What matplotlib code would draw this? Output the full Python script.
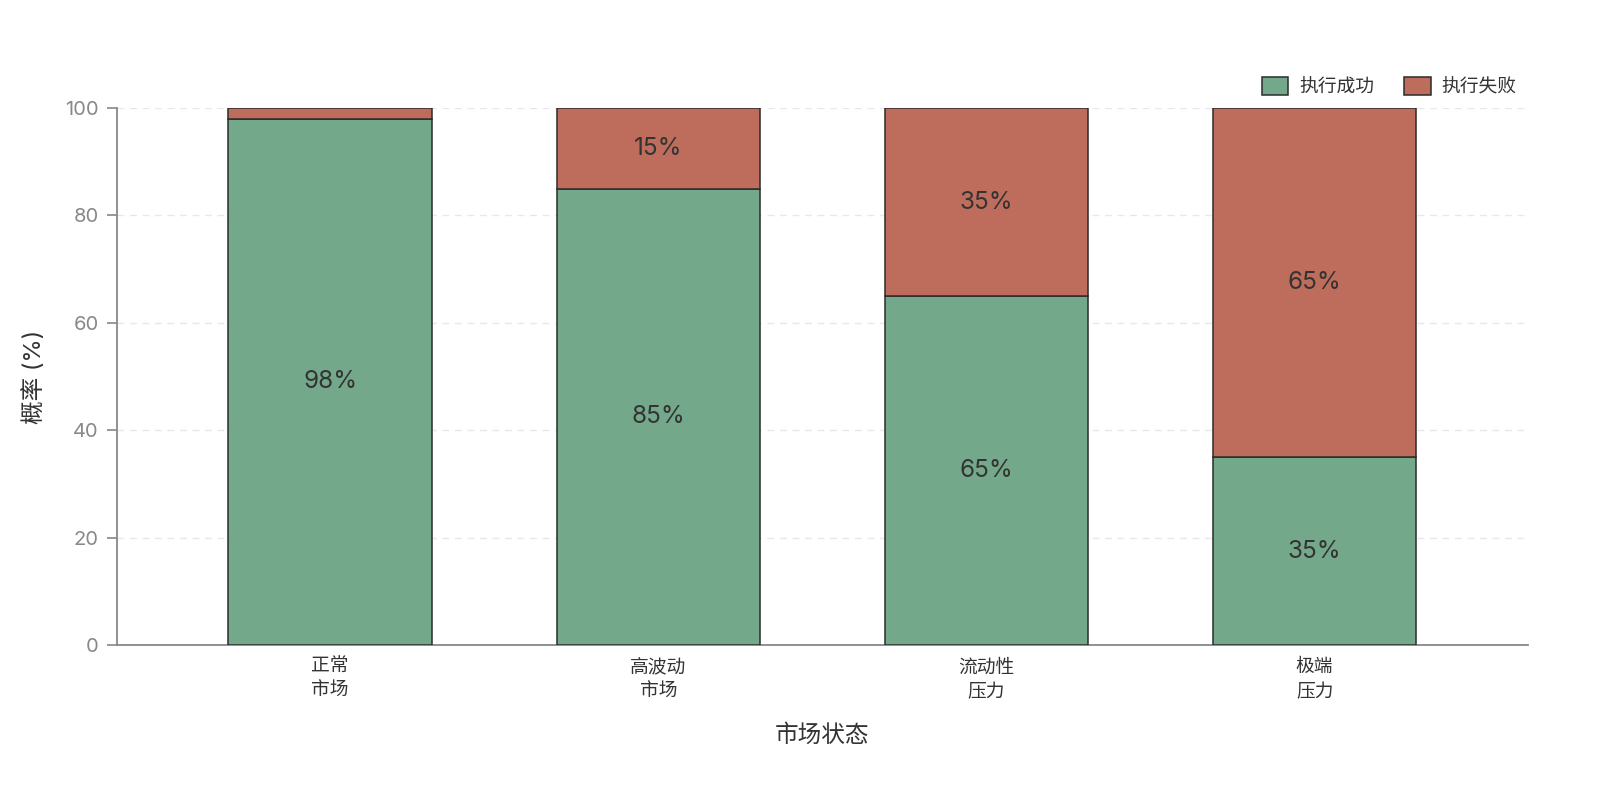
import matplotlib
matplotlib.use("Agg")
import matplotlib.pyplot as plt

plt.rcParams['font.family'] = ['Inter', 'Noto Sans CJK SC', 'DejaVu Sans']

categories = ["正常\n市场", "高波动\n市场", "流动性\n压力", "极端\n压力"]
success = [98, 85, 65, 35]
failure = [2, 15, 35, 65]
series_names = ["执行成功", "执行失败"]
yticks = [0, 20, 40, 60, 80, 100]

green = "#74A88A"
red = "#BE6D5C"
edge = "#2b2b2b"

fig = plt.figure(figsize=(16, 7.89), dpi=100)
ax = fig.add_axes([0.073, 0.1825, 0.882, 0.6805])

x = list(range(len(categories)))
w = 0.62
ax.bar(x, success, width=w, color=green, edgecolor=edge, linewidth=1.1, label=series_names[0], zorder=3)
ax.bar(x, failure, width=w, bottom=success, color=red, edgecolor=edge, linewidth=1.1, label=series_names[1], zorder=3)

for i in x:
    ax.text(i, success[i] / 2, f"{success[i]}%", ha="center", va="center", fontsize=17.5, color="#333333", zorder=4)
    if failure[i] >= 5:
        ax.text(i, success[i] + failure[i] / 2, f"{failure[i]}%", ha="center", va="center", fontsize=17.5, color="#333333", zorder=4)

ax.set_xlim(-0.65, 3.65)
ax.set_ylim(0, 100)
ax.set_yticks(yticks)
ax.set_xticks(x)
ax.set_xticklabels(categories, fontsize=13.5, color="#333333", linespacing=1.55)
ax.tick_params(axis="x", length=0, pad=10)
ax.tick_params(axis="y", labelsize=14.5, labelcolor="#888888", color="#888888", length=7, width=1.2, pad=6)

ax.grid(axis="y", linestyle=(0, (5, 4)), color="#e6e9ec", linewidth=1, zorder=0)
for s in ["top", "right"]:
    ax.spines[s].set_visible(False)
ax.spines["left"].set_color("#888888")
ax.spines["left"].set_linewidth(1.3)
ax.spines["bottom"].set_color("#888888")
ax.spines["bottom"].set_linewidth(1.3)

ax.set_xlabel("市场状态", fontsize=17, color="#333333", labelpad=17)
ax.set_ylabel("概率 (%)", fontsize=17, color="#333333", labelpad=14)

leg = ax.legend(loc="lower right", bbox_to_anchor=(1.0, 1.0), ncol=2, frameon=False,
                fontsize=13.5, handlelength=1.4, handleheight=1.1, columnspacing=1.6,
                handletextpad=0.6, borderaxespad=0.2)
for t in leg.get_texts():
    t.set_color("#333333")

fig.savefig("out.png", dpi=100, facecolor="white")
